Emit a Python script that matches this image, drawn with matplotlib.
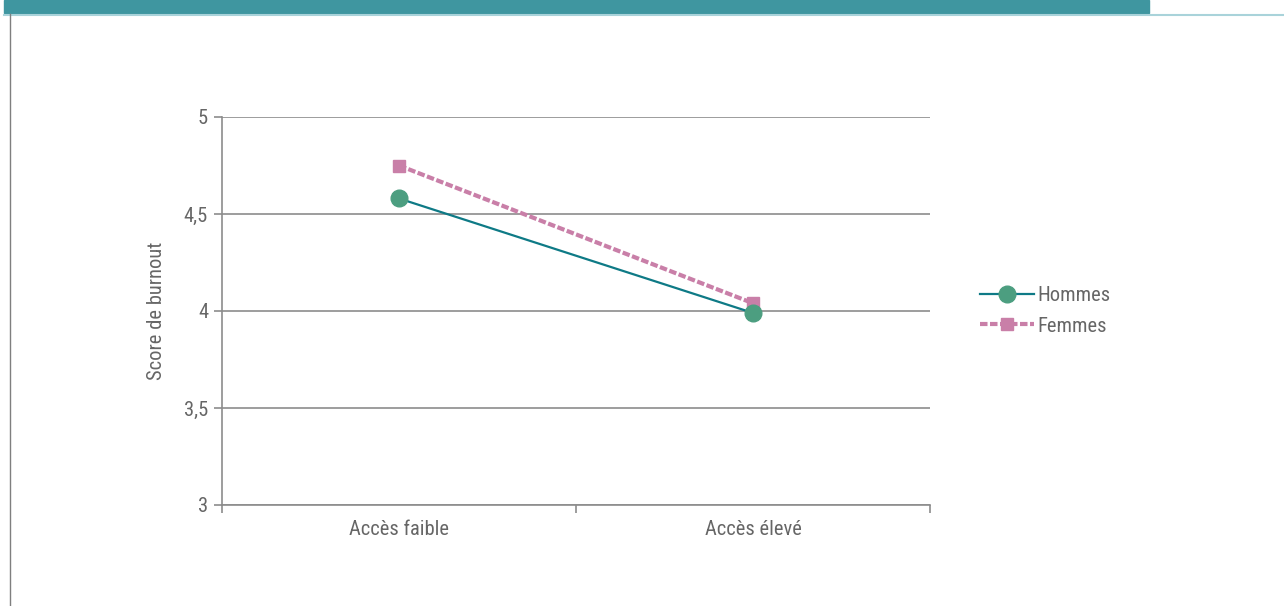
import matplotlib.pyplot as plt
from matplotlib.lines import Line2D
from matplotlib.patches import Rectangle

# Data
categories = ["Accès faible", "Accès élevé"]
hommes = [4.58, 3.99]
femmes = [4.75, 4.04]
y_ticks = [3, 3.5, 4, 4.5, 5]
y_tick_labels = ["3", "3,5", "4", "4,5", "5"]

plt.rcParams['font.family'] = ['Roboto Condensed', 'Liberation Sans Narrow',
                               'Liberation Sans', 'DejaVu Sans']
text_color = '#666666'
grid_color = '#8c8c8c'
fs = 14.8

fig = plt.figure(figsize=(12.84, 6.06), dpi=100)

# header band and frame lines
fig.patches.append(Rectangle((4 / 1284, 1 - 13 / 606), (1149 - 4) / 1284, 13 / 606,
                             transform=fig.transFigure, color='#3F96A0', zorder=0))
fig.add_artist(Line2D([4 / 1284, 1], [1 - 14.5 / 606] * 2, transform=fig.transFigure,
                      color='#A9D3DA', linewidth=1.5))
fig.add_artist(Line2D([9.5 / 1284] * 2, [0, 1 - 14 / 606], transform=fig.transFigure,
                      color='#7f7f7f', linewidth=1))

ax = fig.add_axes([222 / 1284, 1 - 505 / 606, (930 - 222) / 1284, (505 - 117) / 606])

x = list(range(len(categories)))
ax.plot(x, hommes, color='#0E7A86', linewidth=1.6, marker='o', markersize=12,
        markerfacecolor='#4C9E80', markeredgecolor='#4C9E80', label='Hommes', zorder=4)
ax.plot(x, femmes, color='#C97FA8', linewidth=3, linestyle=(0, (1.8, 0.6)),
        marker='s', markersize=9, markerfacecolor='#C97FA8', markeredgecolor='#C97FA8',
        label='Femmes', zorder=3)

ax.set_xlim(-0.5, 1.5)
ax.set_ylim(3, 5)
ax.set_yticks(y_ticks)
ax.set_yticklabels(y_tick_labels, fontsize=fs, color=text_color)
ax.set_xticks([-0.5, 0.5, 1.5])
ax.set_xticklabels([])
ax.set_xticks(x, minor=True)
ax.set_xticklabels(categories, minor=True, fontsize=fs, color=text_color)
ax.tick_params(axis='x', which='minor', length=0, pad=11)
ax.tick_params(axis='x', which='major', length=6, color=grid_color, width=1.2)
ax.tick_params(axis='y', length=6, color=grid_color, width=1.2, pad=4)

ax.grid(axis='y', color=grid_color, linewidth=1.2)
ax.set_axisbelow(True)
for s in ['top', 'right']:
    ax.spines[s].set_visible(False)
for s in ['left', 'bottom']:
    ax.spines[s].set_color(grid_color)
    ax.spines[s].set_linewidth(1.2)

ax.set_ylabel("Score de burnout", fontsize=fs, color=text_color, labelpad=13)

ax.legend(loc='center left', bbox_to_anchor=(1.045, 0.5), frameon=False,
          fontsize=fs, labelcolor=text_color, handlelength=2.6, handletextpad=0.15,
          labelspacing=0.55)

fig.savefig("out.png", dpi=100)
